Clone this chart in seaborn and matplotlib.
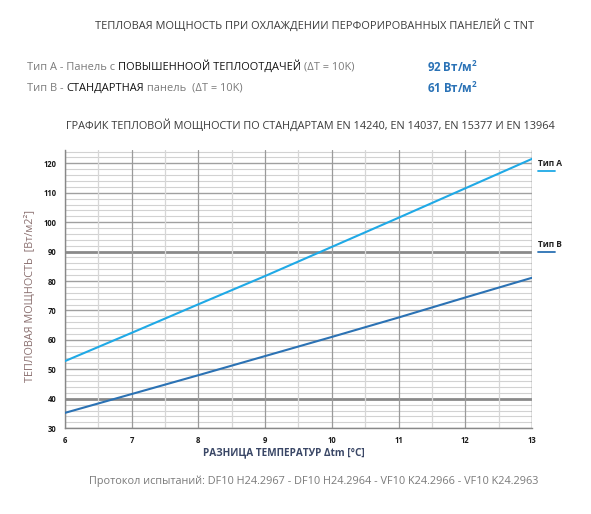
import matplotlib
matplotlib.use("Agg")
import matplotlib.pyplot as plt
import seaborn as sns
import pandas as pd
import numpy as np

# ---- data ----
delta_t = [6, 7, 8, 9, 10, 11, 12, 13]
type_a = [52.8, 62.4, 72.1, 81.7, 91.6, 101.5, 111.5, 121.5]
type_b = [35.2, 41.6, 48.0, 54.5, 61.0, 67.6, 74.4, 81.1]
series_names = ["Тип A", "Тип B"]
y_ticks = [30, 40, 50, 60, 70, 80, 90, 100, 110, 120]
x_ticks = [6, 7, 8, 9, 10, 11, 12, 13]

df = pd.DataFrame({
    "dt": delta_t * 2,
    "q": type_a + type_b,
    "series": [series_names[0]] * len(delta_t) + [series_names[1]] * len(delta_t),
})

sns.set_theme(style="white")
plt.rcParams["font.family"] = ["Open Sans", "DejaVu Sans"]
plt.rcParams["mathtext.fontset"] = "custom"
plt.rcParams["mathtext.rm"] = "Open Sans"
plt.rcParams["mathtext.bf"] = "Open Sans:bold"

col_a = "#1fa9e6"
col_b = "#2b72b4"

fig = plt.figure(figsize=(5.91, 5.14), dpi=100)
ax = fig.add_axes([0.110, 0.167, 0.790, 0.541])

# grid
for y in np.arange(30, 125, 2):
    if y in (40, 90):
        ax.axhline(y, color="#8a8a8a", lw=2.0, zorder=1)
    elif y % 10 == 0:
        ax.axhline(y, color="#a0a0a0", lw=1.0, zorder=1)
    else:
        ax.axhline(y, color="#d2d2d2", lw=0.8, zorder=1)
for x in np.arange(6, 13.01, 0.5):
    if float(x).is_integer():
        ax.axvline(x, color="#9a9a9a", lw=0.9, zorder=1)
    else:
        ax.axvline(x, color="#d6d6d6", lw=0.9, zorder=1)

sns.lineplot(data=df, x="dt", y="q", hue="series", palette=[col_a, col_b],
             ax=ax, lw=1.5, legend=False, zorder=3)

ax.set_xlim(6, 13)
ax.set_ylim(30, 124.5)
ax.set_xticks(x_ticks)
ax.set_yticks(y_ticks)
ax.set_xticklabels([str(v) for v in x_ticks], fontsize=5.5, fontweight="bold", color="#1a1a1a")
ax.set_yticklabels([str(v) for v in y_ticks], fontsize=5.5, fontweight="bold", color="#1a1a1a")
ax.tick_params(axis="both", length=3, width=0.8, color="#777777", pad=3)
ax.tick_params(axis="x", pad=3)
for s in ["top", "right"]:
    ax.spines[s].set_visible(False)
for s in ["left", "bottom"]:
    ax.spines[s].set_color("#888888")
    ax.spines[s].set_linewidth(1.0)
ax.axvline(13, color="#9a9a9a", lw=1.0, zorder=1)

ax.set_xlabel("РАЗНИЦА ТЕМПЕРАТУР Δtm [°C]", fontsize=7.2,
              fontweight="bold", color="#3a4766")
ax.xaxis.set_label_coords(0.469, -0.068)
ax.set_ylabel("ТЕПЛОВАЯ МОЩНОСТЬ  [Вт/м2²]", fontsize=7.8,
              color="#8a6f6f")
ax.yaxis.set_label_coords(-0.063, 0.475)

# series labels at right
ax.text(1.012, 0.935, series_names[0], transform=ax.transAxes, fontsize=6,
        fontweight="bold", color="#222222", va="bottom")
ax.plot([1.012, 1.05], [0.925, 0.925], transform=ax.transAxes, color=col_a, lw=1.3, clip_on=False)
ax.text(1.012, 0.645, series_names[1], transform=ax.transAxes, fontsize=6,
        fontweight="bold", color="#222222", va="bottom")
ax.plot([1.012, 1.05], [0.635, 0.635], transform=ax.transAxes, color=col_b, lw=1.3, clip_on=False)

# header texts
fig.text(0.532, 1 - 26 / 514, "ТЕПЛОВАЯ МОЩНОСТЬ ПРИ ОХЛАЖДЕНИИ ПЕРФОРИРОВАННЫХ ПАНЕЛЕЙ С TNT",
         ha="center", va="center", fontsize=7.9, color="#3a3a3a")

renderer = fig.canvas.get_renderer()

def seq(x0, ypix, parts, size=7.9):
    x = x0
    for txt, color in parts:
        t = fig.text(x / 591, 1 - ypix / 514, txt, ha="left", va="center", fontsize=size,
                     color=color)
        bb = t.get_window_extent(renderer=renderer)
        x += bb.width

seq(27, 67, [("Тип A - Панель с ", "#7a7a7a"), ("ПОВЫШЕННООЙ ТЕПЛООТДАЧЕЙ", "#111111"),
             (" (ΔT = 10K)", "#7a7a7a")])
seq(27, 88, [("Тип B - ", "#7a7a7a"), ("СТАНДАРТНАЯ", "#111111"),
             (" панель  (ΔT = 10K)", "#7a7a7a")])

fig.text(427 / 591, 1 - 67 / 514, "92 Вт/м$\\mathbf{^2}$", ha="left", va="center", fontsize=8.3,
         fontweight="bold", color="#2a72b6")
fig.text(427 / 591, 1 - 88 / 514, "61 Вт/м$\\mathbf{^2}$", ha="left", va="center", fontsize=8.3,
         fontweight="bold", color="#2a72b6")

fig.text(0.525, 1 - 126 / 514,
         "ГРАФИК ТЕПЛОВОЙ МОЩНОСТИ ПО СТАНДАРТАМ EN 14240, EN 14037, EN 15377 И EN 13964",
         ha="center", va="center", fontsize=7.8, color="#3a3a3a")

fig.text(0.530, 1 - 481 / 514,
         "Протокол испытаний: DF10 H24.2967 - DF10 H24.2964 - VF10 K24.2966 - VF10 K24.2963",
         ha="center", va="center", fontsize=7.8, color="#7a7a7a")

fig.savefig("out.png", dpi=100)
